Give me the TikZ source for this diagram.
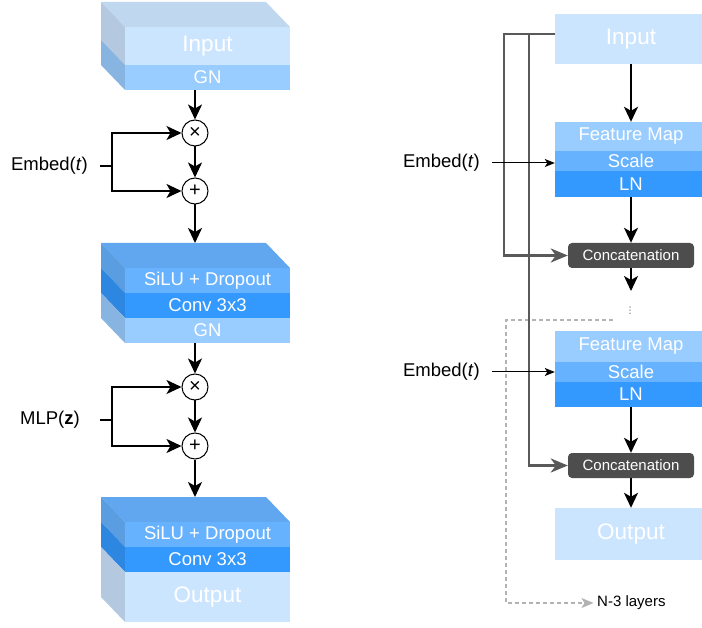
\documentclass[tikz,border=0pt]{standalone}
\usepackage{fontspec}
\setmainfont{Liberation Sans}
\newfontfamily\symfont{DejaVu Sans}
\usetikzlibrary{arrows.meta}

\definecolor{inputc}{HTML}{CCE5FF}
\definecolor{gnc}{HTML}{99CCFF}
\definecolor{siluc}{HTML}{66B2FF}
\definecolor{convc}{HTML}{3399FF}
\definecolor{catc}{HTML}{4D4D4D}
\definecolor{skipc}{HTML}{595959}
\definecolor{dashc}{HTML}{B3B3B3}

\begin{document}
\begin{tikzpicture}[x=1pt, y=-1pt,
		layer/.style={rectangle, inner sep=0, text=white, minimum width=165pt, minimum height=25pt, font=\fontsize{18.5}{20}\selectfont},
		rlayer/.style={layer, minimum width=152pt},
		big/.style={font=\fontsize{22.5}{24}\selectfont},
		op/.style={draw, circle, fill=white, line width=1pt, inner sep=0, minimum size=26pt, font=\fontsize{20}{20}\selectfont},
		lbl/.style={inner sep=0, font=\fontsize{18.5}{20}\selectfont},
		cat/.style={rectangle, rounded corners=4pt, fill=catc, text=white, inner sep=0, minimum width=126pt, minimum height=25pt, font=\fontsize{15}{16}\selectfont},
		line/.style={line width=2pt},
		arr/.style={line width=2pt, -{Stealth[length=15pt, width=14pt, inset=4pt]}},
		thinarr/.style={line width=1pt, -{Stealth[length=10pt, width=8pt, inset=2.5pt]}},
		skiparr/.style={line width=2.5pt, draw=skipc, -{Stealth[length=17pt, width=14pt, inset=5pt]}},
		dasharr/.style={line width=1.3pt, draw=dashc, dash pattern=on 4pt off 3pt, -{Stealth[length=12pt, width=10pt, inset=3pt, fill=dashc]}}]
		\useasboundingbox (0, 0) rectangle (702, 628);

		\coordinate (top2) at (195, 243);
		\coordinate (top3) at (195, 497);
		\coordinate (fork1) at (112, 166);
		\coordinate (fork2) at (112, 420);

		% block 1
		\fill[inputc!94!black] (125, 27) -- (290, 27) -- (266, 2) -- (101, 2) -- cycle;
		\fill[inputc!88!black] (125, 27) -- (101, 2) -- (101, 40) -- (125, 65) -- cycle;
		\fill[gnc!88!black] (125, 65) -- (101, 40) -- (101, 65) -- (125, 90) -- cycle;
		\node[layer, big, fill=inputc, minimum height=38pt] (in1) at (207.5, 46) {Input};
		\node[layer, fill=gnc] (gn1) at (207.5, 77.5) {GN};

		% block 2
		\fill[siluc!94!black] (125, 268) -- (290, 268) -- (266, 243) -- (101, 243) -- cycle;
		\fill[siluc!88!black] (125, 268) -- (101, 243) -- (101, 268) -- (125, 293) -- cycle;
		\fill[convc!88!black] (125, 293) -- (101, 268) -- (101, 293) -- (125, 318) -- cycle;
		\fill[gnc!88!black] (125, 318) -- (101, 293) -- (101, 318) -- (125, 343) -- cycle;
		\node[layer, fill=siluc] (silu2) at (207.5, 280.5) {SiLU + Dropout};
		\node[layer, fill=convc] (conv2) at (207.5, 305.5) {Conv 3x3};
		\node[layer, fill=gnc] (gn2) at (207.5, 330.5) {GN};

		% block 3
		\fill[siluc!94!black] (125, 522) -- (290, 522) -- (266, 497) -- (101, 497) -- cycle;
		\fill[siluc!88!black] (125, 522) -- (101, 497) -- (101, 522) -- (125, 547) -- cycle;
		\fill[convc!88!black] (125, 547) -- (101, 522) -- (101, 547) -- (125, 572) -- cycle;
		\fill[inputc!88!black] (125, 572) -- (101, 547) -- (101, 597) -- (125, 622) -- cycle;
		\node[layer, fill=siluc] (silu3) at (207.5, 534.5) {SiLU + Dropout};
		\node[layer, fill=convc] (conv3) at (207.5, 559.5) {Conv 3x3};
		\node[layer, big, fill=inputc, minimum height=50pt] (out1) at (207.5, 597) {Output};

		\node[op] (mul1) at (195, 133) {×};
		\node[op] (add1) at (195, 191) {+};
		\node[op] (mul2) at (195, 387) {×};
		\node[op] (add2) at (195, 446) {+};
		\node[lbl, anchor=east] (emb1) at (88, 166) {Embed(\textit{t})};
		\node[lbl, anchor=east] (mlp1) at (80, 420) {MLP(\textbf{z})};

		\draw[arr] (gn1.south -| mul1) -- (mul1);
		\draw[arr] (mul1) -- (add1);
		\draw[arr] (add1) -- (top2);
		\draw[arr] (gn2.south -| mul2) -- (mul2);
		\draw[arr] (mul2) -- (add2);
		\draw[arr] (add2) -- (top3);
		\draw[line] (fork1) -- ++(-12, 0);
		\draw[arr] (fork1) |- (mul1);
		\draw[arr] (fork1) |- (add1);
		\draw[line] (fork2) -- ++(-12, 0);
		\draw[arr] (fork2) |- (mul2);
		\draw[arr] (fork2) |- (add2);

		% right column
		\node[rlayer, big, fill=inputc, minimum height=50pt] (inR) at (631, 39) {Input};
		\node[rlayer, fill=gnc, minimum height=29pt] (fm1) at (631, 136.5) {Feature Map};
		\node[rlayer, fill=siluc, minimum height=20pt] (sc1) at (631, 161) {Scale};
		\node[rlayer, fill=convc, minimum height=26pt] (ln1) at (631, 184) {LN};
		\node[cat] (cat1) at (631, 255.5) {Concatenation};
		\node[font=\symfont\fontsize{9}{9}\selectfont, inner sep=0, text=catc] (dots) at (630, 311) {⋮};
		\node[rlayer, fill=gnc, minimum height=31pt] (fm2) at (631, 346.5) {Feature Map};
		\node[rlayer, fill=siluc, minimum height=20pt] (sc2) at (631, 372) {Scale};
		\node[rlayer, fill=convc, minimum height=25pt] (ln2) at (631, 394.5) {LN};
		\node[cat] (cat2) at (631, 465.5) {Concatenation};
		\node[rlayer, big, fill=inputc, minimum height=52pt] (outR) at (631, 534) {Output};
		\node[lbl, anchor=east] (emb2) at (480, 163) {Embed(\textit{t})};
		\node[lbl, anchor=east] (emb3) at (480, 372) {Embed(\textit{t})};
		\node[inner xsep=3.5pt, inner ysep=0, anchor=west, font=\fontsize{15}{16}\selectfont] (layersN) at (593.5, 603) {N-3 layers};

		\coordinate (tap) at ([yshift=5pt]inR.west);
		\coordinate (dend) at (631, 291);
		\coordinate (dstart) at (613, 320);
		\coordinate (dcorner) at (506, 603);

		\draw[dasharr] (dstart) -| (dcorner) -- (layersN.west);
		\draw[skiparr] (tap) -- ++(-51, 0) |- (cat1.west);
		\draw[skiparr] ([xshift=-26pt]tap) |- (cat2.west);

		\draw[arr] (inR) -- (fm1);
		\draw[arr] (ln1) -- (cat1);
		\draw[arr] (cat1) -- (dend);
		\draw[arr] (ln2) -- (cat2);
		\draw[arr] (cat2) -- (outR);
		\draw[thinarr] ([xshift=12pt]emb2.east) -- (emb2.east -| sc1.west);
		\draw[thinarr] ([xshift=12pt]emb3.east) -- (emb3.east -| sc2.west);
	\end{tikzpicture}
\end{document}
